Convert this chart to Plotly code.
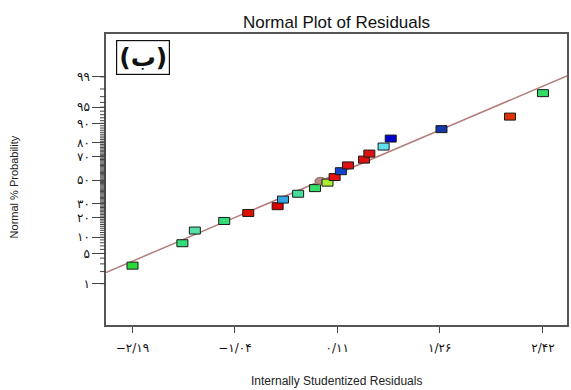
import plotly.graph_objects as go
from statistics import NormalDist

# ---------------- data ----------------
residuals = [-2.19, -1.63, -1.49, -1.16, -0.89, -0.56, -0.50, -0.33, -0.14, -0.08,
             0.00, 0.08, 0.15, 0.23, 0.41, 0.47, 0.63, 0.71, 1.28, 2.05, 2.42]
probability_pct = [2.74, 7.84, 12.9, 18.0, 23.1, 28.0, 33.2, 38.1, 43.0, 49.5,
                   47.9, 52.9, 58.1, 63.1, 67.9, 72.6, 77.6, 82.6, 87.5, 92.4, 97.5]
point_colors = ["#2ad83a", "#33dd77", "#55e0a8", "#33dd77", "#dd1100", "#dd0000",
                "#35a6e0", "#44dd99", "#33dd66", "#b38a84", "#aaee33", "#e81010",
                "#1144cc", "#dd1111", "#dd1111", "#dd1111", "#5ee2f0", "#0000cc",
                "#1238aa", "#dd3300", "#33dd66"]
point_shapes = ["rect"] * 9 + ["circle"] + ["rect"] * 11

fit_x = [-2.49, 2.69]
fit_pct = [1.90, 99.06]

x_tickvals = [-2.19, -1.04, 0.11, 1.26, 2.42]
x_ticktext = ["\u2212۲/۱۹", "\u2212۱/۰۴", "۰/۱۱", "۱/۲۶", "۲/۴۲"]
y_tick_pct = [1, 5, 10, 20, 30, 50, 70, 80, 90, 95, 99]
y_ticktext = ["۱", "۵", "۱۰", "۲۰", "۳۰", "۵۰", "۷۰", "۸۰", "۹۰", "۹۵", "۹۹"]
y_minor_pct = list(range(1, 100))

x_range = [-2.488, 2.690]
y_range_pct = [0.0566, 99.95]

nd = NormalDist()
def probit(p):
    return nd.inv_cdf(p / 100.0)

z_pts = [probit(p) for p in probability_pct]
y_range = [probit(y_range_pct[0]), probit(y_range_pct[1])]

def z_to_paper(z):
    return (z - y_range[0]) / (y_range[1] - y_range[0])

fig = go.Figure()

# fitted line
fig.add_trace(go.Scatter(
    x=fit_x, y=[probit(p) for p in fit_pct], mode="lines",
    line=dict(color="#b37c7c", width=1.5), hoverinfo="skip", showlegend=False))

# invisible hover trace for the points
fig.add_trace(go.Scatter(
    x=residuals, y=z_pts, mode="markers",
    marker=dict(size=10, color="rgba(0,0,0,0)"),
    customdata=probability_pct,
    hovertemplate="%{x}<br>%{customdata}%<extra></extra>", showlegend=False))

# minor ticks on the probability axis (every percent), outside the plot area
for p in y_minor_pct:
    yp = z_to_paper(probit(p))
    fig.add_shape(type="line", xref="paper", yref="paper",
                  x0=-6 / 463, x1=0, y0=yp, y1=yp,
                  line=dict(color="#444", width=1), layer="above")

# rectangular markers anchored at data coordinates (pixel-sized)
for xv, zv, c, s in zip(residuals, z_pts, point_colors, point_shapes):
    fig.add_shape(
        type=s, xref="x", yref="y",
        xsizemode="pixel", xanchor=xv, x0=-5.5, x1=5.5,
        ysizemode="pixel", yanchor=zv, y0=-3.5, y1=3.5,
        fillcolor=c,
        line=dict(color="#8a6a62" if s == "circle" else "#1a1a1a", width=1),
        layer="above")

axis_font = dict(family="DejaVu Sans, Noto Sans, sans-serif", size=12, color="#111")

fig.update_layout(
    width=571, height=390,
    margin=dict(l=106, r=2, t=34, b=65),
    paper_bgcolor="white", plot_bgcolor="white",
    showlegend=False,
    title=dict(text="Normal Plot of Residuals",
               font=dict(family="Liberation Sans, Arial, sans-serif", size=17, color="#111"),
               x=0.5, xref="paper", xanchor="center",
               y=1 - 22 / 390, yref="container", yanchor="middle"),
    xaxis=dict(range=x_range, showgrid=False, zeroline=False,
               showline=True, mirror=True, linecolor="#555", linewidth=1.5,
               ticks="outside", ticklen=6, tickwidth=1.2, tickcolor="#444",
               tickmode="array", tickvals=x_tickvals, ticktext=x_ticktext,
               tickfont=axis_font, ticklabelstandoff=5),
    yaxis=dict(range=y_range,
               showgrid=False, zeroline=False,
               showline=True, mirror=True, linecolor="#555", linewidth=1.5,
               ticks="outside", ticklen=12, tickwidth=1.2, tickcolor="#444",
               tickmode="array", tickvals=[probit(p) for p in y_tick_pct],
               ticktext=y_ticktext, tickfont=axis_font),
    annotations=[
        dict(text="Internally Studentized Residuals", xref="paper", yref="paper",
             x=0.5, y=(325 - 381) / 291, xanchor="center", yanchor="middle",
             showarrow=False,
             font=dict(family="Liberation Sans, Arial, sans-serif", size=12, color="#222")),
        dict(text="Normal % Probability", xref="paper", yref="paper",
             x=(14 - 106) / 463, y=(325 - 187) / 291, xanchor="center", yanchor="middle",
             textangle=-90, showarrow=False,
             font=dict(family="Liberation Sans, Arial, sans-serif", size=11, color="#222")),
        dict(text="<b>(ب)</b>", xref="paper", yref="paper",
             x=(116 - 106) / 463, y=(325 - 40) / 291, xanchor="left", yanchor="top",
             showarrow=False, bordercolor="#111", borderwidth=1.2, borderpad=2,
             bgcolor="white",
             font=dict(family="DejaVu Sans, Noto Sans, sans-serif", size=25, color="#111")),
    ],
)

fig.write_html("out.html")
